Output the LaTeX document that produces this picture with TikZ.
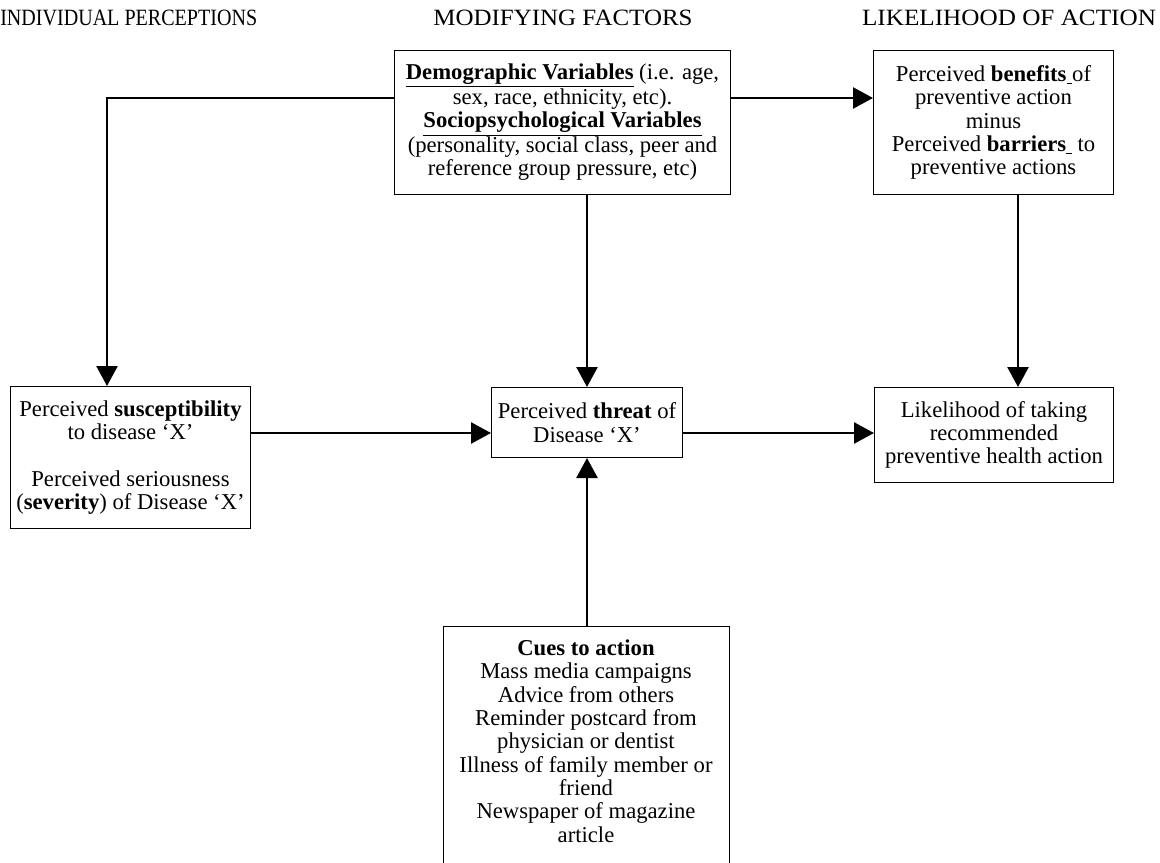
\documentclass[tikz,border=0pt]{standalone}
\usepackage{fontspec}
\usepackage{graphicx}
\setmainfont{Liberation Serif}
\usetikzlibrary{arrows.meta,calc}
\begin{document}
\begin{tikzpicture}[x=0.75pt,y=-0.75pt,
  box/.style={draw, line width=0.75pt, anchor=north west, inner sep=0pt, align=center, font=\fontsize{17}{17.5}\selectfont},
  txt/.style={align=center, inner sep=0pt, font=\fontsize{17}{17.5}\selectfont},
  head/.style={font=\fontsize{17.5}{18}\selectfont, inner sep=0pt},
  arr/.style={line width=1.9pt, -{Triangle[length=15pt,width=15.75pt]}}]
\useasboundingbox (0,0) rectangle (1160,863);
\clip (0,0) rectangle (1160,863);
% headers
\node[head, anchor=west] (h1) at (0,18) {\scalebox{0.86}[1]{INDIVIDUAL PERCEPTIONS}};
\node[head] (h2) at (563,18) {\scalebox{1.07}[1]{MODIFYING FACTORS}};
\node[head] (h3) at (1009,18) {\scalebox{1.08}[1]{LIKELIHOOD OF ACTION}};
% boxes
\node[box, minimum width=252pt, minimum height=108pt] (demo) at (394,50)
  {\underline{\textbf{Demographic Variables}} (i.e. age,\\ sex, race, ethnicity, etc).\\ \underline{\textbf{Sociopsychological Variables}}\\ (personality, social class, peer and\\ reference group pressure, etc)};
\node[box, minimum width=180pt, minimum height=108pt] (ben) at (873,50)
  {Perceived \textbf{benefits\underline{\ }}of\\ preventive action\\ minus\\ Perceived \textbf{barriers\underline{\ }} to\\ preventive actions};
\node[box, minimum width=180pt, minimum height=106.5pt] (susc) at (10,386)
  {Perceived \textbf{susceptibility}\\ to disease `X'\\[17.5pt] Perceived seriousness\\ (\textbf{severity}) of Disease `X'};
\node[box, minimum width=143.25pt, minimum height=52.5pt] (threat) at (491,387)
  {Perceived \textbf{threat} of\\ Disease `X'};
\node[box, minimum width=179.25pt, minimum height=71.25pt] (like) at (874,387)
  {Likelihood of taking\\ recommended\\ preventive health action};
\node[box, minimum width=214.5pt, minimum height=190pt] (cues) at (443,626) {};
\node[txt] (cuestext) at (586,741)
  {\textbf{Cues to action}\\ Mass media campaigns\\ Advice from others\\ Reminder postcard from\\ physician or dentist\\ Illness of family member or\\ friend\\ Newspaper of magazine\\ article};
% connectors
\draw[arr] ($(demo.north west)+(0,48)$) -| ($(susc.north west)+(97,0)$);
\draw[arr] ($(demo.north east)+(0,48)$) coordinate (d1) -- (d1 -| ben.west);
\draw[arr] (demo.south -| threat.north) -- (threat.north);
\draw[arr] ($(ben.south west)+(145,0)$) -- ($(like.north west)+(144,0)$);
\draw[arr] ($(susc.north east)+(0,47)$) coordinate (s1) -- (s1 -| threat.west);
\draw[arr] ($(threat.north east)+(0,46)$) coordinate (t1) -- (t1 -| like.west);
\draw[arr] (cues.north -| threat.south) -- (threat.south);
\end{tikzpicture}
\end{document}
